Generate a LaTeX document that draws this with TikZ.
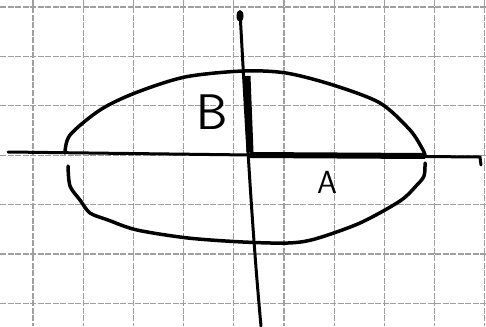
\documentclass[tikz,border=0pt]{standalone}
\begin{document}
\begin{tikzpicture}[x=1pt,y=-1pt]
	\useasboundingbox (0,0) rectangle (486,326);
	\fill[white] (0,0) rectangle (486,326);
	% squared paper
	\foreach \i in {0,...,9}
		\draw[gray!75, line width=1.1pt, dash pattern=on 6pt off 1.5pt] ({33+50.2*\i},0) -- ({33+50.2*\i},326);
	\foreach \j in {0,...,6}
		\draw[gray!75, line width=1.1pt, dash pattern=on 6pt off 1.5pt] (0,{7+49.4*\j}) -- (486,{7+49.4*\j});
	% axes
	\draw[line width=3pt, line cap=round] (8,152) -- (250,155) -- (480,157) -- (481,165);
	\draw[line width=3pt, line cap=round] (240,12) .. controls (246,120) and (252,230) .. (261,326);
	\fill[black] (240,16) ellipse (3.5pt and 6pt);
	% ellipse, drawn in two strokes
	\draw[line width=3.5pt, line cap=round] plot[smooth] coordinates {(65,153) (70,135) (100,110) (135,93) (185,77) (243,71) (286,73) (333,85) (380,103) (410,130) (423,150) (425,156)};
	\draw[line width=3.5pt, line cap=round] plot[smooth] coordinates {(68,166) (70,186) (80,200) (90,213) (108,220) (137,230) (188,238) (243,242) (288,243) (315,239) (360,223) (400,201) (416,186) (424,176) (425,163)};
	% semi-axes
	\draw[line width=7pt] (247,76) -- (250,152);
	\draw[line width=6pt] (250,155) -- (425,156);
	\node[font=\sffamily\fontsize{50}{50}\selectfont] (labB) at (212,112) {B};
	\node[font=\sffamily\fontsize{32}{32}\selectfont] (labA) at (327,182) {A};
\end{tikzpicture}
\end{document}
